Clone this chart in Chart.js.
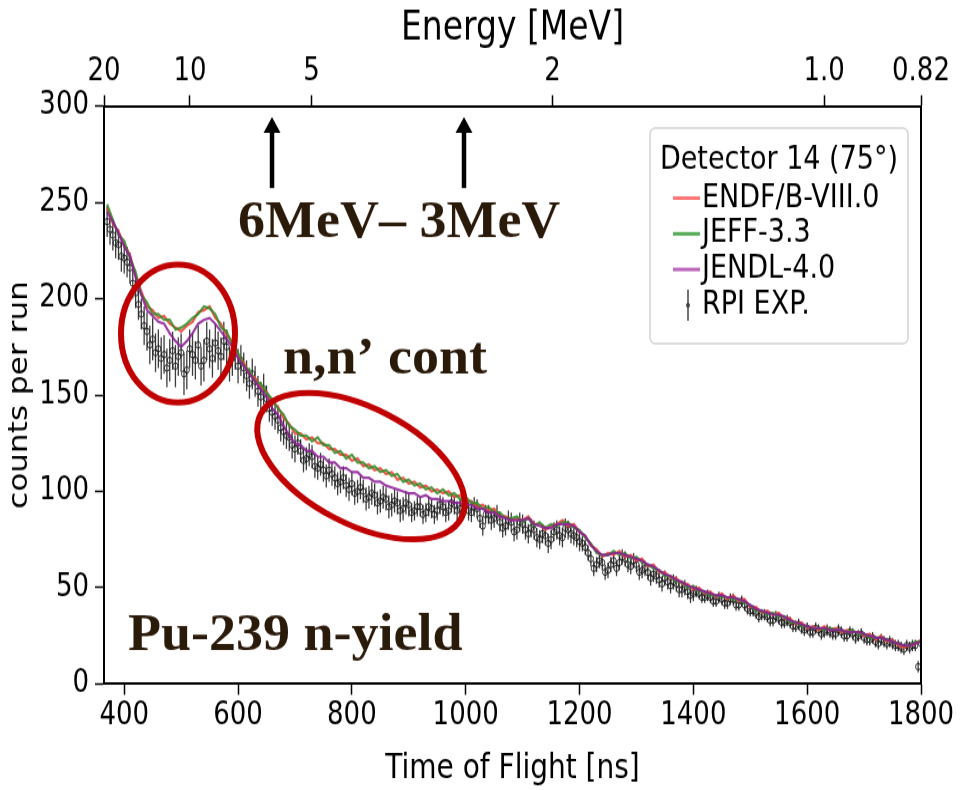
<!DOCTYPE html>
<html>
<head>
<meta charset="utf-8">
<script src="https://cdn.jsdelivr.net/npm/chart.js@4.4.1/dist/chart.umd.min.js"></script>
<style>
  html, body { margin: 0; padding: 0; background: #fff; }
  #stage { position: relative; width: 960px; height: 790px; overflow: hidden; }
  /* the original figure is stretched vertically, so draw at 660 high and stretch to 790 */
  #wrap { position: absolute; left: 0; top: 0; width: 960px; height: 660px;
          transform: scaleY(1.19697); transform-origin: 0 0; }
</style>
</head>
<body>
<div id="stage"><div id="wrap"><canvas id="chart"></canvas></div></div>
<script>
const STRETCH = 790 / 660;

// model grid, time of flight [ns]
const tof = [370, 380, 390, 400, 410, 420, 430, 440, 450, 460, 470, 480, 490, 500, 510, 520, 530, 540, 550, 560,
  570, 580, 590, 600, 610, 620, 630, 640, 650, 660, 670, 680, 690, 700, 710, 720, 730, 740, 750, 760,
  770, 780, 790, 800, 810, 820, 830, 840, 850, 860, 870, 880, 890, 900, 910, 920, 930, 940, 950, 960,
  970, 980, 990, 1000, 1010, 1020, 1030, 1040, 1050, 1060, 1070, 1080, 1090, 1100, 1110, 1120, 1130, 1140, 1150, 1160,
  1170, 1180, 1190, 1200, 1210, 1220, 1230, 1240, 1250, 1260, 1270, 1280, 1290, 1300, 1310, 1320, 1330, 1340, 1350, 1360,
  1370, 1380, 1390, 1400, 1410, 1420, 1430, 1440, 1450, 1460, 1470, 1480, 1490, 1500, 1510, 1520, 1530, 1540, 1550, 1560,
  1570, 1580, 1590, 1600, 1610, 1620, 1630, 1640, 1650, 1660, 1670, 1680, 1690, 1700, 1710, 1720, 1730, 1740, 1750, 1760,
  1770, 1780, 1790, 1800];

const endf = [247, 239, 235, 228, 223, 212, 204, 196, 194, 190, 191, 187, 185, 183, 186, 188, 193, 194, 196, 190,
  187, 181, 178, 170, 167, 161, 159, 154, 152, 146, 144, 138, 135, 130, 130, 127, 128, 125, 125, 122,
  122, 119, 119, 116, 117, 113, 114, 111, 112, 109, 110, 106, 107, 104, 105, 102, 103, 100, 101, 99,
  100, 97, 98, 95, 95, 92, 93, 90, 91, 87, 87, 85, 86, 85, 87, 83, 83, 80, 82, 83,
  85, 82, 83, 79, 77, 72, 70, 66, 68, 67, 69, 66, 67, 64, 65, 61, 62, 58, 58, 55,
  55, 52, 52, 49, 50, 47, 48, 45, 47, 44, 46, 43, 44, 40, 40, 37, 38, 36, 37, 34,
  34, 31, 32, 29, 30, 28, 30, 28, 29, 27, 28, 27, 27, 25, 26, 23, 25, 22, 23, 20,
  19, 20, 21, 23];

const jeff = [249, 241, 233, 230, 221, 214, 202, 198, 192, 192, 189, 189, 184, 185, 187, 190, 192, 196, 195, 192,
  185, 183, 176, 172, 165, 163, 157, 156, 151, 148, 143, 140, 134, 132, 129, 129, 126, 128, 124, 124,
  120, 121, 117, 119, 115, 115, 112, 113, 110, 111, 108, 109, 105, 106, 103, 104, 101, 102, 99, 101,
  98, 99, 96, 97, 94, 94, 91, 92, 89, 89, 86, 86, 87, 84, 86, 82, 84, 81, 83, 82,
  84, 84, 81, 80, 76, 73, 68, 67, 67, 69, 67, 68, 65, 66, 63, 62, 60, 59, 56, 56,
  53, 53, 50, 51, 48, 48, 46, 46, 45, 45, 44, 44, 42, 41, 38, 38, 36, 37, 35, 35,
  32, 32, 30, 30, 29, 29, 28, 29, 28, 28, 27, 28, 26, 26, 24, 24, 24, 23, 22, 21,
  20, 20, 22, 22];

const jendl = [245, 240, 234, 227, 222, 211, 202, 194, 191, 188, 187, 182, 178, 175, 178, 182, 187, 189, 190, 187,
  183, 179, 175, 169, 165, 161, 157, 153, 149, 143, 140, 134, 129, 125, 124, 121, 121, 118, 118, 115,
  115, 112, 112, 110, 110, 107, 107, 105, 105, 103, 102, 101, 100, 99, 99, 97, 98, 96, 96, 95,
  95, 94, 94, 93, 93, 91, 91, 89, 89, 87, 86, 85, 85, 85, 86, 83, 82, 81, 81, 83,
  83, 83, 82, 79, 77, 72, 69, 67, 67, 68, 68, 67, 66, 65, 64, 62, 61, 59, 57, 56,
  54, 53, 51, 50, 49, 48, 47, 46, 46, 45, 45, 44, 43, 41, 39, 38, 37, 36, 36, 35,
  33, 32, 31, 30, 29, 29, 29, 28, 28, 28, 27, 27, 27, 26, 25, 24, 24, 23, 22, 21,
  20, 20, 21, 22];

// measurement grid, time of flight [ns], 370 to 1800 every 5
const expTof = [370, 375, 380, 385, 390, 395, 400, 405, 410, 415, 420, 425, 430, 435, 440, 445, 450, 455, 460, 465,
  470, 475, 480, 485, 490, 495, 500, 505, 510, 515, 520, 525, 530, 535, 540, 545, 550, 555, 560, 565,
  570, 575, 580, 585, 590, 595, 600, 605, 610, 615, 620, 625, 630, 635, 640, 645, 650, 655, 660, 665,
  670, 675, 680, 685, 690, 695, 700, 705, 710, 715, 720, 725, 730, 735, 740, 745, 750, 755, 760, 765,
  770, 775, 780, 785, 790, 795, 800, 805, 810, 815, 820, 825, 830, 835, 840, 845, 850, 855, 860, 865,
  870, 875, 880, 885, 890, 895, 900, 905, 910, 915, 920, 925, 930, 935, 940, 945, 950, 955, 960, 965,
  970, 975, 980, 985, 990, 995, 1000, 1005, 1010, 1015, 1020, 1025, 1030, 1035, 1040, 1045, 1050, 1055, 1060, 1065,
  1070, 1075, 1080, 1085, 1090, 1095, 1100, 1105, 1110, 1115, 1120, 1125, 1130, 1135, 1140, 1145, 1150, 1155, 1160, 1165,
  1170, 1175, 1180, 1185, 1190, 1195, 1200, 1205, 1210, 1215, 1220, 1225, 1230, 1235, 1240, 1245, 1250, 1255, 1260, 1265,
  1270, 1275, 1280, 1285, 1290, 1295, 1300, 1305, 1310, 1315, 1320, 1325, 1330, 1335, 1340, 1345, 1350, 1355, 1360, 1365,
  1370, 1375, 1380, 1385, 1390, 1395, 1400, 1405, 1410, 1415, 1420, 1425, 1430, 1435, 1440, 1445, 1450, 1455, 1460, 1465,
  1470, 1475, 1480, 1485, 1490, 1495, 1500, 1505, 1510, 1515, 1520, 1525, 1530, 1535, 1540, 1545, 1550, 1555, 1560, 1565,
  1570, 1575, 1580, 1585, 1590, 1595, 1600, 1605, 1610, 1615, 1620, 1625, 1630, 1635, 1640, 1645, 1650, 1655, 1660, 1665,
  1670, 1675, 1680, 1685, 1690, 1695, 1700, 1705, 1710, 1715, 1720, 1725, 1730, 1735, 1740, 1745, 1750, 1755, 1760, 1765,
  1770, 1775, 1780, 1785, 1790, 1795, 1800];

const rpiExp = [240, 236, 233, 229, 228, 222, 221, 219, 216, 208, 203, 197, 192, 186, 183, 176, 179, 172, 174, 169,
  171, 164, 168, 173, 165, 170, 172, 161, 163, 174, 171, 168, 176, 165, 168, 178, 174, 169, 177, 173,
  170, 178, 175, 166, 169, 172, 165, 168, 164, 160, 156, 161, 157, 152, 149, 153, 148, 143, 141, 139,
  137, 133, 131, 129, 128, 124, 122, 125, 121, 116, 117, 119, 118, 113, 112, 114, 111, 108, 111, 109,
  107, 104, 105, 107, 103, 101, 104, 99, 100, 102, 100, 96, 97, 99, 98, 94, 95, 97, 96, 92,
  93, 95, 94, 90, 91, 94, 93, 89, 90, 92, 92, 88, 89, 92, 91, 88, 90, 93, 92, 89,
  90, 94, 93, 90, 91, 94, 93, 90, 89, 92, 91, 86, 82, 88, 88, 85, 86, 88, 84, 81,
  82, 85, 84, 79, 80, 84, 83, 80, 78, 81, 80, 76, 75, 78, 77, 73, 75, 79, 80, 77,
  76, 81, 80, 78, 77, 76, 74, 73, 71, 68, 65, 60, 62, 64, 63, 58, 59, 62, 64, 60,
  63, 66, 65, 62, 61, 64, 62, 58, 59, 60, 58, 55, 57, 56, 54, 52, 55, 53, 51, 53,
  52, 49, 49, 50, 48, 46, 47, 48, 47, 45, 45, 46, 45, 43, 43, 45, 44, 42, 42, 44,
  44, 41, 41, 43, 41, 39, 38, 38, 37, 35, 36, 36, 35, 33, 33, 35, 34, 32, 32, 33,
  32, 30, 30, 31, 29, 28, 29, 27, 27, 29, 28, 26, 27, 28, 27, 26, 26, 28, 27, 25,
  25, 27, 26, 24, 25, 26, 24, 23, 23, 24, 22, 21, 23, 22, 21, 22, 21, 20, 20, 19,
  18, 20, 19, 20, 20, 9, 21];

const rpiErr = [8, 8, 8, 8, 8, 8, 8, 8, 8, 8, 8, 8, 8, 10, 10, 10, 11, 10, 10, 11,
  10, 10, 11, 10, 11, 10, 10, 11, 10, 10, 11, 10, 10, 10, 11, 10, 10, 10, 10, 10,
  10, 10, 9, 9, 9, 9, 9, 8, 8, 8, 8, 8, 8, 8, 8, 8, 7, 7, 7, 7,
  7, 7, 7, 7, 7, 7, 7, 6, 6, 6, 6, 6, 6, 6, 6, 6, 6, 6, 6, 6,
  6, 6, 6, 6, 6, 6, 6, 6, 6, 6, 6, 6, 6, 6, 6, 6, 6, 6, 6, 6,
  6, 6, 6, 6, 6, 6, 6, 5, 5, 5, 5, 5, 5, 5, 5, 5, 5, 5, 5, 5,
  5, 5, 5, 5, 5, 5, 5, 5, 5, 5, 5, 5, 5, 5, 5, 5, 5, 5, 5, 5,
  5, 5, 5, 5, 5, 5, 5, 5, 5, 5, 5, 5, 5, 5, 5, 5, 5, 5, 5, 5,
  5, 5, 5, 5, 5, 5, 5, 4, 4, 4, 4, 4, 4, 4, 4, 4, 4, 4, 4, 4,
  4, 4, 4, 4, 4, 4, 4, 4, 4, 4, 4, 4, 4, 4, 4, 4, 4, 4, 4, 4,
  4, 4, 4, 4, 4, 4, 4, 3, 3, 3, 3, 3, 3, 3, 3, 3, 3, 3, 3, 3,
  3, 3, 3, 3, 3, 3, 3, 3, 3, 3, 3, 3, 3, 3, 3, 3, 3, 3, 3, 3,
  3, 3, 3, 3, 3, 3, 3, 3, 3, 3, 3, 3, 3, 3, 3, 3, 3, 3, 3, 3,
  3, 3, 3, 3, 3, 3, 3, 3, 3, 3, 3, 3, 3, 3, 3, 3, 3, 3, 3, 3,
  3, 3, 3, 3, 3, 3, 3];

const tofTicks = [400, 600, 800, 1000, 1200, 1400, 1600, 1800];
const countTicks = [0, 50, 100, 150, 200, 250, 300];
const energyTicks = [20, 10, 5, 2, 1.0, 0.82];
const energyLabels = ['20', '10', '5', '2', '1.0', '0.82'];

// non-relativistic flight time, anchored so 0.82 MeV sits at 1800 ns
const tofOfEnergy = e => 1800 * Math.sqrt(0.82 / e);
const pts = (xs, ys) => xs.map((t, i) => ({ x: t, y: ys[i] }));

const FONT = 'DejaVu Sans';
Chart.defaults.font.family = FONT;
Chart.defaults.color = '#000';

const errorBars = {
  id: 'errorBars',
  beforeDatasetDraw(chart, args) {
    if (args.index !== 0) return;
    const { ctx, chartArea: a } = chart;
    const { x, y } = chart.scales;
    ctx.save();
    ctx.beginPath();
    ctx.rect(a.left, a.top, a.width, a.height);
    ctx.clip();
    ctx.strokeStyle = 'rgba(25,25,25,0.85)';
    ctx.lineWidth = 1.3;
    ctx.beginPath();
    expTof.forEach((t, i) => {
      const px = x.getPixelForValue(t);
      ctx.moveTo(px, y.getPixelForValue(rpiExp[i] - rpiErr[i]));
      ctx.lineTo(px, y.getPixelForValue(rpiExp[i] + rpiErr[i]));
    });
    ctx.stroke();
    ctx.restore();
  }
};

const extras = {
  id: 'extras',
  afterDraw(chart) {
    const { ctx, chartArea: a } = chart;
    const { x, y } = chart.scales;

    // right frame line
    ctx.save();
    ctx.strokeStyle = '#000';
    ctx.lineWidth = 2;
    ctx.beginPath();
    ctx.moveTo(a.right, a.top);
    ctx.lineTo(a.right, a.bottom);
    ctx.stroke();

    // legend box
    ctx.fillStyle = 'rgba(255,255,255,0.85)';
    ctx.strokeStyle = '#d4d4d4';
    ctx.lineWidth = 1.5;
    ctx.beginPath();
    ctx.roundRect(650, 107, 258, 180, 5);
    ctx.fill();
    ctx.stroke();
    ctx.fillStyle = '#000';
    ctx.font = '27px ' + FONT;
    ctx.textBaseline = 'middle';
    ctx.textAlign = 'center';
    ctx.fillText('Detector 14 (75°)', 779, 134);
    ctx.textAlign = 'left';
    [1, 2, 3, 0].forEach((di, row) => {
      const ds = chart.data.datasets[di];
      const ly = 165.5 + row * 29.8;
      if (di === 0) {
        ctx.strokeStyle = '#444';
        ctx.lineWidth = 1.5;
        ctx.beginPath();
        ctx.moveTo(688, ly - 13);
        ctx.lineTo(688, ly + 13);
        ctx.stroke();
        ctx.fillStyle = '#444';
        ctx.beginPath();
        ctx.arc(688, ly, 2, 0, Math.PI * 2);
        ctx.fill();
      } else {
        ctx.strokeStyle = ds.legendColor;
        ctx.lineWidth = 3;
        ctx.beginPath();
        ctx.moveTo(673, ly);
        ctx.lineTo(700, ly);
        ctx.stroke();
      }
      ctx.fillStyle = '#000';
      ctx.fillText(ds.label, 702, ly);
    });
    ctx.restore();

    // annotations are drawn unstretched, in final picture pixels
    const X = v => x.getPixelForValue(v);
    const Y = v => y.getPixelForValue(v) * STRETCH;
    ctx.save();
    ctx.scale(1, 1 / STRETCH);

    ctx.strokeStyle = '#c00000';
    ctx.lineWidth = 6;
    ctx.beginPath();
    ctx.ellipse(X(494.5), Y(181.9), 57, 69, 0, 0, Math.PI * 2);
    ctx.stroke();
    ctx.beginPath();
    ctx.ellipse(X(816), Y(113.1), 113, 58, 27.5 * Math.PI / 180, 0, Math.PI * 2);
    ctx.stroke();

    ctx.fillStyle = '#000';
    ctx.strokeStyle = '#000';
    [659.7, 997].forEach(t => {
      const ax = X(t), tip = Y(294.3), tail = Y(257.4);
      ctx.lineWidth = 4.5;
      ctx.beginPath();
      ctx.moveTo(ax, tail);
      ctx.lineTo(ax, tip + 12);
      ctx.stroke();
      ctx.beginPath();
      ctx.moveTo(ax, tip);
      ctx.lineTo(ax - 8.5, tip + 16);
      ctx.lineTo(ax + 8.5, tip + 16);
      ctx.closePath();
      ctx.fill();
    });

    ctx.fillStyle = '#2a1a0a';
    ctx.font = 'bold 54px "Liberation Serif", "Times New Roman", serif';
    ctx.textAlign = 'left';
    ctx.textBaseline = 'alphabetic';
    ctx.fillText('6MeV\u2013 3MeV', X(599.9), Y(232));
    ctx.fillText('n,n\u2019 cont', X(679), Y(161.4));
    ctx.fillText('Pu-239 n-yield', X(406.7), Y(17.6));
    ctx.restore();
  }
};

const xMin = tofOfEnergy(20);

new Chart(document.getElementById('chart'), {
  type: 'line',
  data: {
    datasets: [
      {
        label: 'RPI EXP.', data: pts(expTof, rpiExp), showLine: false, order: 4,
        pointRadius: 2.6, pointBorderWidth: 1,
        pointBorderColor: 'rgba(20,20,20,0.85)', pointBackgroundColor: 'rgba(255,255,255,0)'
      },
      { label: 'ENDF/B-VIII.0', data: pts(tof, endf), borderColor: 'rgba(240,70,60,0.9)', legendColor: '#f77',
        borderWidth: 2.2, pointRadius: 0, order: 3 },
      { label: 'JEFF-3.3', data: pts(tof, jeff), borderColor: 'rgba(50,140,40,0.85)', legendColor: '#5a5',
        borderWidth: 2.2, pointRadius: 0, order: 2 },
      { label: 'JENDL-4.0', data: pts(tof, jendl), borderColor: 'rgba(140,30,150,0.85)', legendColor: '#b6b',
        borderWidth: 2.2, pointRadius: 0, order: 1 }
    ]
  },
  options: {
    responsive: true,
    maintainAspectRatio: false,
    animation: false,
    layout: { padding: { left: 0, right: 39, top: 0, bottom: 0 } },
    plugins: { legend: { display: false }, tooltip: { enabled: false } },
    scales: {
      x: {
        type: 'linear', position: 'bottom', min: xMin, max: 1800,
        afterBuildTicks: s => { s.ticks = tofTicks.map(v => ({ value: v })); },
        afterFit: s => { s.height = 660 - 684 / STRETCH; },
        ticks: { font: { size: 26 }, padding: 2, maxRotation: 0, callback: v => String(v) },
        grid: { drawOnChartArea: false, tickLength: 9, tickColor: '#000', tickWidth: 1.5 },
        border: { color: '#000', width: 2 },
        title: { display: true, text: 'Time of Flight [ns]', font: { size: 28 }, padding: { top: 0, bottom: 0 } }
      },
      x2: {
        type: 'linear', position: 'top', min: xMin, max: 1800,
        afterBuildTicks: s => { s.ticks = energyTicks.map(e => ({ value: tofOfEnergy(e) })); },
        afterFit: s => { s.height = 106 / STRETCH; },
        ticks: { font: { size: 26 }, padding: 4, maxRotation: 0, callback: (v, i) => energyLabels[i] },
        grid: { drawOnChartArea: false, tickLength: 9, tickColor: '#000', tickWidth: 1.5 },
        border: { color: '#000', width: 2 },
        title: { display: true, text: 'Energy [MeV]', font: { size: 33 }, padding: 5 }
      },
      y: {
        min: 0, max: 300,
        afterBuildTicks: s => { s.ticks = countTicks.map(v => ({ value: v })); },
        afterFit: s => { s.width = 104; },
        ticks: { font: { size: 26 }, padding: 6 },
        grid: { drawOnChartArea: false, tickLength: 9, tickColor: '#000', tickWidth: 1.5 },
        border: { color: '#000', width: 2 },
        title: { display: true, text: 'counts per run', font: { size: 26 }, padding: 5 }
      }
    }
  },
  plugins: [errorBars, extras]
});
</script>
</body>
</html>
